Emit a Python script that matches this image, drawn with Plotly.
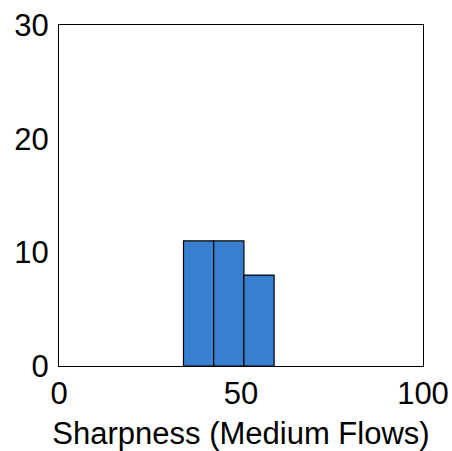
import plotly.graph_objects as go

bin_edges = [34.2, 42.5, 50.8, 59.1]
counts = [11, 11, 8]
x_ticks = [0, 50, 100]
y_ticks = [0, 10, 20, 30]
x_label = "Sharpness (Medium Flows)"

centers = [(a + b) / 2 for a, b in zip(bin_edges[:-1], bin_edges[1:])]
widths = [b - a for a, b in zip(bin_edges[:-1], bin_edges[1:])]

fig = go.Figure(go.Bar(
    x=centers, y=counts, width=widths,
    marker=dict(color="#3780CF", line=dict(color="black", width=1.2)),
))

font = dict(family="Arial, Liberation Sans, sans-serif", size=31, color="black")
fig.update_layout(
    width=452, height=451,
    margin=dict(l=59, r=29, t=25, b=85, autoexpand=False),
    paper_bgcolor="white", plot_bgcolor="white",
    font=font, showlegend=False,
)
fig.update_xaxes(
    range=[0, 100], tickvals=x_ticks, showgrid=False, zeroline=False,
    showline=True, linecolor="black", linewidth=1.3, mirror=True,
    ticks="", ticklabelstandoff=0, automargin=False,
    title=dict(text=x_label, font=font, standoff=14),
)
fig.update_yaxes(
    range=[0, 30], tickvals=y_ticks, showgrid=False, zeroline=False,
    showline=True, linecolor="black", linewidth=1.3, mirror=True,
    ticks="", ticklabelstandoff=3, automargin=False,
)
fig.write_html("out.html")
